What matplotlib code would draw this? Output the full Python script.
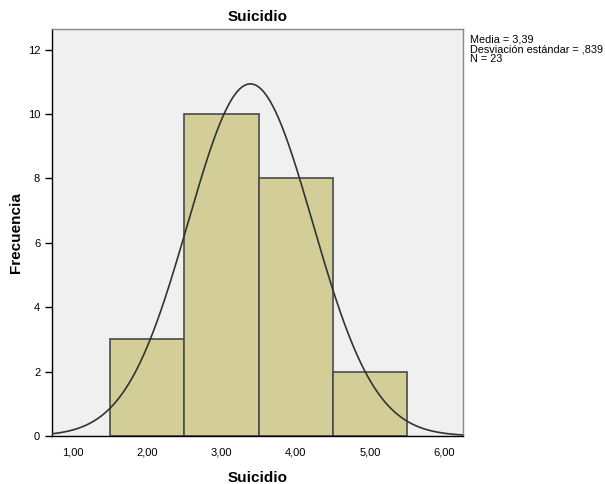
import numpy as np
import matplotlib
matplotlib.use("Agg")
import matplotlib.pyplot as plt

plt.rcParams['font.family'] = ['Liberation Sans', 'DejaVu Sans']

bin_edges = [1.5, 2.5, 3.5, 4.5, 5.5]
counts = [3, 10, 8, 2]
mean = 3.39
sd = 0.839
n = 23
xticks = [1, 2, 3, 4, 5, 6]
xtick_labels = ["1,00", "2,00", "3,00", "4,00", "5,00", "6,00"]
yticks = [0, 2, 4, 6, 8, 10, 12]

fig = plt.figure(figsize=(6.05, 4.84), dpi=100)
ax = fig.add_axes([52/605, 48/484, (463-52)/605, (436-29)/484])
ax.set_facecolor('#F0F0F0')

widths = np.diff(bin_edges)
ax.bar(bin_edges[:-1], counts, width=widths, align='edge', color='#D3CE97',
       edgecolor='#4a4a4a', linewidth=1.2, zorder=2)

xs = np.linspace(0.717, 6.256, 400)
bw = widths[0]
ys = n * bw / (sd * np.sqrt(2*np.pi)) * np.exp(-0.5*((xs-mean)/sd)**2)
ax.plot(xs, ys, color='#333333', linewidth=1.2, zorder=3)

ax.set_xlim(0.717, 6.256)
ax.set_ylim(0, 12.64)
ax.set_xticks(xticks)
ax.set_xticklabels(xtick_labels)
ax.set_yticks(yticks)
ax.tick_params(axis='x', length=0, labelsize=8, pad=8)
ax.tick_params(axis='y', length=5, labelsize=8, width=1, color='black')

for s in ['top', 'right']:
    ax.spines[s].set_color('#888888')
for s in ['left', 'bottom']:
    ax.spines[s].set_color('black')
for s in ax.spines.values():
    s.set_linewidth(1)

ax.set_title('Suicidio', fontsize=11, fontweight='bold', pad=6)
ax.set_xlabel('Suicidio', fontsize=11, fontweight='bold', labelpad=10)
ax.set_ylabel('Frecuencia', fontsize=11, fontweight='bold')
ax.yaxis.set_label_coords(-0.07, 0.5)

fig.text(470/605, 1 - 34/484,
         "Media = 3,39\nDesviación estándar = ,839\nN = 23",
         fontsize=7.8, va='top', ha='left', linespacing=1.0)

fig.savefig('out.png', dpi=100)
